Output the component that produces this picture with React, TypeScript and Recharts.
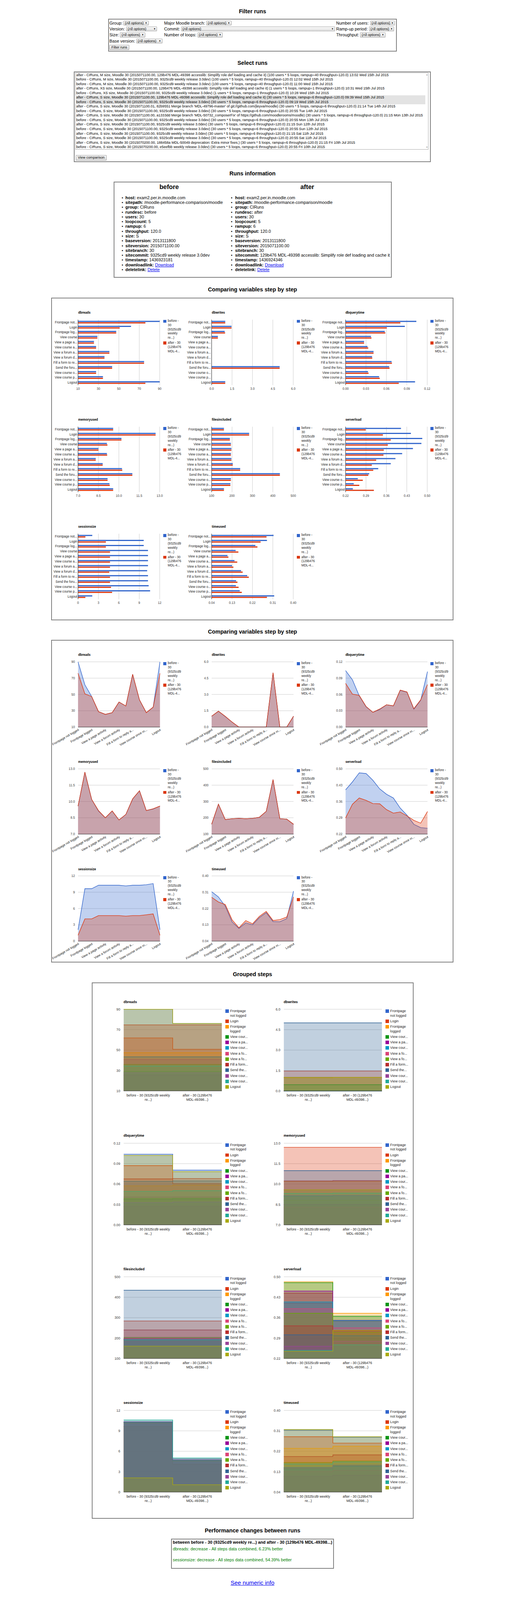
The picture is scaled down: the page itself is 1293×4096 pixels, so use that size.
import React from 'react';
import { BarChart, Bar, AreaChart, Area, XAxis, YAxis, CartesianGrid } from 'recharts';

const S = 1293 / 1905;
const p = (v: number) => v * S;
const FONT = '"Liberation Sans", Arial, Helvetica, sans-serif';
const F12 = p(12);
const F13 = p(13);

// ---------------- data ----------------
const stepNames = ['Frontpage not logged', 'Login', 'Frontpage logged', 'View course', 'View a page activity', 'View course again', 'View a forum activity', 'View a forum discussion', 'Fill a form to reply a forum discussion', 'Send the forum reply', 'View course once more', 'View course page', 'Logout'];
const barStepLabels = ['Frontpage not...', 'Login', 'Frontpage log...', 'View course', 'View a page a...', 'View course a...', 'View a forum a...', 'View a forum d...', 'Fill a form to re...', 'Send the foru...', 'View course o...', 'View course p...', 'Logout'];
const slantStepLabels = ['Frontpage not logged', 'Login', 'Frontpage logged', 'View course', 'View a page activity', 'View course a...', 'View a forum activity', 'View a forum d...', 'Fill a form to reply a...', 'Send the foru...', 'View course once m...', 'View course p...', 'Logout'];
const groupLegendLabels = [['Frontpage', 'not logged'], ['Login'], ['Frontpage', 'logged'], ['View cour...'], ['View a pa...'], ['View cour...'], ['View a fo...'], ['View a fo...'], ['Fill a form...'], ['Send the...'], ['View cour...'], ['View cour...'], ['Logout']];
const legendBeforeLines = ['before -', '30', '(9325cd9', 'weekly', 're...)'];
const legendAfterLines = ['after - 30', '(129b476', 'MDL-4...'];
const runTickLines = [['before - 30 (9325cd9 weekly', 're...)'], ['after - 30 (129b476', 'MDL-49398...)']];
const seriesColors = ['#3366cc', '#dc3912'];
const stepColors = ['#3366cc', '#dc3912', '#ff9900', '#109618', '#990099', '#0099c6', '#dd4477', '#66aa00', '#b82e2e', '#316395', '#994499', '#22aa99', '#aaaa11'];

const dbreadsBefore = [90, 61.9, 47.4, 28.9, 25.6, 27.7, 40.7, 35.9, 74.7, 43.4, 27.7, 34.4, 90];
const dbreadsAfter = [76, 50.8, 47.4, 28.9, 25.6, 27.7, 40.7, 35.9, 74.7, 43.4, 27.7, 34.4, 76];
const dbwritesBefore = [1.0, 1.46, 0.96, 0.46, 0, 0, 0, 0, 0, 5.0, 0, 0, 1.0];
const dbwritesAfter = [1.0, 1.46, 0.99, 0.46, 0, 0, 0, 0, 0, 5.0, 0, 0, 1.0];
const dbquerytimeBefore = [0.104, 0.0871, 0.0575, 0.0373, 0.0272, 0.0322, 0.0411, 0.0389, 0.0676, 0.0641, 0.0329, 0.0493, 0.1021];
const dbquerytimeAfter = [0.0805, 0.0606, 0.0584, 0.038, 0.0272, 0.0333, 0.0411, 0.0392, 0.0681, 0.0646, 0.0338, 0.0502, 0.0782];
const memoryusedBefore = [9.58, 12.7, 10.19, 9.12, 8.5, 9.12, 8.3, 8.81, 10.23, 10.99, 9.17, 9.31, 9.58];
const memoryusedAfter = [9.58, 12.7, 10.19, 9.16, 8.5, 9.14, 8.3, 8.81, 10.25, 10.99, 9.17, 9.33, 9.58];
const filesincludedBefore = [160.4, 283.8, 189.4, 194.4, 196.9, 194.4, 196.9, 203.5, 239.9, 434.4, 194.4, 191.9, 160.4];
const filesincludedAfter = [160.4, 283.8, 189.4, 194.4, 196.9, 194.4, 196.9, 203.5, 239.9, 434.4, 194.4, 191.9, 160.4];
const serverloadBefore = [0.41, 0.444, 0.483, 0.48, 0.451, 0.414, 0.391, 0.375, 0.332, 0.301, 0.262, 0.248, 0.245];
const serverloadAfter = [0.289, 0.348, 0.375, 0.365, 0.351, 0.35, 0.325, 0.31, 0.315, 0.298, 0.279, 0.267, 0.317];
const sessionsizeBefore = [2.09, 9.65, 9.65, 10.28, 10.28, 10.28, 10.28, 10.16, 10.28, 10.28, 10.38, 10.59, 2.09];
const sessionsizeAfter = [1.08, 4.09, 4.09, 4.7, 4.7, 4.7, 4.7, 4.59, 4.7, 4.7, 4.85, 5.01, 1.08];
const timeusedBefore = [0.313, 0.284, 0.233, 0.146, 0.11, 0.141, 0.13, 0.17, 0.197, 0.148, 0.147, 0.164, 0.316];
const timeusedAfter = [0.282, 0.256, 0.242, 0.158, 0.114, 0.153, 0.136, 0.177, 0.204, 0.154, 0.159, 0.173, 0.284];

const dbreadsTicks = [10, 30, 50, 70, 90];
const dbwritesTicks = [0, 1.5, 3, 4.5, 6];
const dbquerytimeTicks = [0, 0.03, 0.06, 0.09, 0.12];
const memoryusedTicks = [7, 8.5, 10, 11.5, 13];
const filesincludedTicks = [100, 200, 300, 400, 500];
const serverloadTicks = [0.22, 0.29, 0.36, 0.43, 0.5];
const sessionsizeTicks = [0, 3, 6, 9, 12];
const timeusedTicks = [0.04, 0.13, 0.22, 0.31, 0.4];

const metricNames = ['dbreads', 'dbwrites', 'dbquerytime', 'memoryused', 'filesincluded', 'serverload', 'sessionsize', 'timeused'];
const tickDecimals = [0, 1, 2, 1, 0, 2, 0, 2];

const metrics = [
  { name: metricNames[0], before: dbreadsBefore, after: dbreadsAfter, ticks: dbreadsTicks, dec: tickDecimals[0] },
  { name: metricNames[1], before: dbwritesBefore, after: dbwritesAfter, ticks: dbwritesTicks, dec: tickDecimals[1] },
  { name: metricNames[2], before: dbquerytimeBefore, after: dbquerytimeAfter, ticks: dbquerytimeTicks, dec: tickDecimals[2] },
  { name: metricNames[3], before: memoryusedBefore, after: memoryusedAfter, ticks: memoryusedTicks, dec: tickDecimals[3] },
  { name: metricNames[4], before: filesincludedBefore, after: filesincludedAfter, ticks: filesincludedTicks, dec: tickDecimals[4] },
  { name: metricNames[5], before: serverloadBefore, after: serverloadAfter, ticks: serverloadTicks, dec: tickDecimals[5] },
  { name: metricNames[6], before: sessionsizeBefore, after: sessionsizeAfter, ticks: sessionsizeTicks, dec: tickDecimals[6] },
  { name: metricNames[7], before: timeusedBefore, after: timeusedAfter, ticks: timeusedTicks, dec: tickDecimals[7] },
];

const runOptions = [
  'after - CIRuns, M size, Moodle 30 (2015071100.00, 129b476 MDL-49398 accesslib: Simplify role def loading and cache it) (100 users * 5 loops, rampup=40 throughput=120.0) 13:02 Wed 15th Jul 2015',
  'before - CIRuns, M size, Moodle 30 (2015071100.00, 9325cd9 weekly release 3.0dev) (100 users * 5 loops, rampup=40 throughput=120.0) 12:02 Wed 15th Jul 2015',
  'before - CIRuns, M size, Moodle 30 (2015071100.00, 9325cd9 weekly release 3.0dev) (100 users * 5 loops, rampup=40 throughput=120.0) 11:00 Wed 15th Jul 2015',
  'after - CIRuns, XS size, Moodle 30 (2015071100.00, 129b476 MDL-49398 accesslib: Simplify role def loading and cache it) (1 users * 5 loops, rampup=1 throughput=120.0) 10:31 Wed 15th Jul 2015',
  'before - CIRuns, XS size, Moodle 30 (2015071100.00, 9325cd9 weekly release 3.0dev) (1 users * 5 loops, rampup=1 throughput=120.0) 10:28 Wed 15th Jul 2015',
  'after - CIRuns, S size, Moodle 30 (2015071100.00, 129b476 MDL-49398 accesslib: Simplify role def loading and cache it) (30 users * 5 loops, rampup=6 throughput=120.0) 09:39 Wed 15th Jul 2015',
  'before - CIRuns, S size, Moodle 30 (2015071100.00, 9325cd9 weekly release 3.0dev) (30 users * 5 loops, rampup=6 throughput=120.0) 09:19 Wed 15th Jul 2015',
  "after - CIRuns, S size, Moodle 30 (2015071100.01, 82b9551 Merge branch 'MDL-49796-master' of git://github.com/jleyva/moodle) (30 users * 5 loops, rampup=6 throughput=120.0) 21:14 Tue 14th Jul 2015",
  'before - CIRuns, S size, Moodle 30 (2015071100.00, 9325cd9 weekly release 3.0dev) (30 users * 5 loops, rampup=6 throughput=120.0) 20:55 Tue 14th Jul 2015',
  "after - CIRuns, S size, Moodle 30 (2015071100.00, a1333dd Merge branch 'MDL-50732_composerFix' of https://github.com/moodlerooms/moodle) (30 users * 5 loops, rampup=6 throughput=120.0) 21:15 Mon 13th Jul 2015",
  'before - CIRuns, S size, Moodle 30 (2015071100.00, 9325cd9 weekly release 3.0dev) (30 users * 5 loops, rampup=6 throughput=120.0) 20:55 Mon 13th Jul 2015',
  'after - CIRuns, S size, Moodle 30 (2015071100.00, 9325cd9 weekly release 3.0dev) (30 users * 5 loops, rampup=6 throughput=120.0) 21:15 Sun 12th Jul 2015',
  'before - CIRuns, S size, Moodle 30 (2015071100.00, 9325cd9 weekly release 3.0dev) (30 users * 5 loops, rampup=6 throughput=120.0) 20:55 Sun 12th Jul 2015',
  'after - CIRuns, S size, Moodle 30 (2015071100.00, 9325cd9 weekly release 3.0dev) (30 users * 5 loops, rampup=6 throughput=120.0) 21:15 Sat 11th Jul 2015',
  'before - CIRuns, S size, Moodle 30 (2015071100.00, 9325cd9 weekly release 3.0dev) (30 users * 5 loops, rampup=6 throughput=120.0) 20:55 Sat 11th Jul 2015',
  'after - CIRuns, S size, Moodle 30 (2015070200.00, 188458a MDL-50049 deprecation: Extra minor fixes.) (30 users * 5 loops, rampup=6 throughput=120.0) 21:15 Fri 10th Jul 2015',
  'before - CIRuns, S size, Moodle 30 (2015070200.00, e5eefbb weekly release 3.0dev) (30 users * 5 loops, rampup=6 throughput=120.0) 20:55 Fri 10th Jul 2015',
];
const selectedRuns = [5, 6];

const runInfoKeys = ['host', 'sitepath', 'group', 'rundesc', 'users', 'loopcount', 'rampup', 'throughput', 'size', 'baseversion', 'siteversion', 'sitebranch', 'sitecommit', 'timestamp', 'downloadlink', 'deletelink'];
const beforeInfo = ['exam2.per.in.moodle.com', '/moodle-performance-comparison/moodle', 'CIRuns', 'before', '30', '5', '6', '120.0', 'S', '2013111800', '2015071100.00', '30', '9325cd9 weekly release 3.0dev', '1436923181', 'Download', 'Delete'];
const afterInfo = ['exam2.per.in.moodle.com', '/moodle-performance-comparison/moodle', 'CIRuns', 'after', '30', '5', '6', '120.0', 'S', '2013111800', '2015071100.00', '30', '129b476 MDL-49398 accesslib: Simplify role def loading and cache it', '1436924346', 'Download', 'Delete'];
const linkKeys = ['downloadlink', 'deletelink'];

const perfHeader = 'between before - 30 (9325cd9 weekly re...) and after - 30 (129b476 MDL-49398...)';
const perfLines = ['dbreads: decrease - All steps data combined, 6.23% better', 'sessionsize: decrease - All steps data combined, 54.39% better'];

// ---------------- helpers ----------------
function L({ x, y, size = 16, bold = false, color = '#000', children, center = false, underline = false }: any) {
  const fs = p(size);
  return (
    <div style={{ position: 'absolute', left: p(x), top: p(y) - fs / 2, fontSize: fs, lineHeight: `${fs}px`, fontWeight: bold ? 700 : 400, color, whiteSpace: 'nowrap', transform: center ? 'translateX(-50%)' : undefined, textDecoration: underline ? 'underline' : undefined }}>
      {children}
    </div>
  );
}

function Title({ y, children }: any) {
  return <L x={952.5} y={y} size={21} bold center>{children}</L>;
}

function Box({ x1, y1, x2, y2 }: any) {
  return <div style={{ position: 'absolute', left: p(x1), top: p(y1), width: p(x2 - x1), height: p(y2 - y1), border: `${p(3)}px solid #808080`, boxSizing: 'border-box' }} />;
}

function Sel({ x1, x2, y }: any) {
  return (
    <div style={{ position: 'absolute', left: p(x1), top: p(y - 9), width: p(x2 - x1), height: p(18), boxSizing: 'border-box', border: '1px solid #a6a6a6', borderRadius: 1, background: 'linear-gradient(#fbfbfb,#dddddd)', fontSize: p(13.33), lineHeight: `${p(16)}px`, paddingLeft: p(4), color: '#000', whiteSpace: 'nowrap', overflow: 'hidden' }}>
      (All options)
      <span style={{ position: 'absolute', right: p(4), top: 0, fontSize: p(9), lineHeight: `${p(16)}px` }}>▼</span>
    </div>
  );
}

function Btn({ x1, x2, y1, y2, children }: any) {
  return (
    <div style={{ position: 'absolute', left: p(x1), top: p(y1), width: p(x2 - x1), height: p(y2 - y1), boxSizing: 'border-box', border: '1px solid #a0a0a0', borderRadius: 1, background: 'linear-gradient(#f8f8f8,#dadada)', fontSize: p(13.33), lineHeight: `${p(y2 - y1) - 2}px`, textAlign: 'center', color: '#000', whiteSpace: 'nowrap' }}>
      {children}
    </div>
  );
}

function ChartTitle({ x, y, size, children }: any) {
  return <div style={{ position: 'absolute', left: p(x), top: p(y) - p(size) / 2, fontSize: p(size), lineHeight: `${p(size)}px`, fontWeight: 700, color: '#000', whiteSpace: 'nowrap' }}>{children}</div>;
}

function LegendLine({ x, y, size, children }: any) {
  return <div style={{ position: 'absolute', left: p(x), top: p(y) - p(size) / 2, fontSize: p(size), lineHeight: `${p(size)}px`, color: '#222', whiteSpace: 'nowrap' }}>{children}</div>;
}

function SeriesLegend({ left, top }: any) {
  return (
    <div style={{ position: 'absolute', left: p(left), top: p(top) }}>
      <div style={{ position: 'absolute', left: 0, top: 0, width: p(12), height: p(11.5), background: seriesColors[0] }} />
      {legendBeforeLines.map((t, i) => <LegendLine key={'b' + i} x={17} y={5 + 16 * i} size={12}>{t}</LegendLine>)}
      <div style={{ position: 'absolute', left: 0, top: p(82), width: p(12), height: p(11.5), background: seriesColors[1] }} />
      {legendAfterLines.map((t, i) => <LegendLine key={'a' + i} x={17} y={88 + 16 * i} size={12}>{t}</LegendLine>)}
    </div>
  );
}

function GroupLegend({ left }: any) {
  let yy = 63.7;
  const items: any[] = [];
  groupLegendLabels.forEach((lines, i) => {
    const top = yy;
    items.push(
      <React.Fragment key={i}>
        <div style={{ position: 'absolute', left: p(left), top: p(top - 6.5), width: p(13), height: p(13), background: stepColors[i] }} />
        {lines.map((t, j) => <LegendLine key={j} x={left + 18} y={top + 17 * j} size={13}>{t}</LegendLine>)}
      </React.Fragment>
    );
    yy = top + (lines.length - 1) * 17 + 21;
  });
  return <>{items}</>;
}

// ---------------- charts ----------------
function HBarChart({ m, x, y }: any) {
  const W = p(504), H = p(404);
  const data = barStepLabels.map((label, i) => ({ label, before: m.before[i], after: m.after[i] }));
  const fmt = (v: any) => Number(v).toFixed(m.dec);
  return (
    <div style={{ position: 'absolute', left: p(x), top: p(y), width: W, height: H }}>
      <BarChart layout="vertical" width={W} height={H} data={data}
        margin={{ top: p(55), right: W - p(97 + 308), bottom: p(404 - 302 - 30), left: 0 }}
        barCategoryGap="22%" barGap={p(1.3)}>
        <CartesianGrid horizontal={false} stroke="#cccccc" />
        <XAxis type="number" domain={[m.ticks[0], m.ticks[m.ticks.length - 1]]} ticks={m.ticks} interval={0} height={p(30)}
          axisLine={false} tickLine={false} tickSize={0} tickMargin={0}
          tick={(t: any) => <text x={t.x} y={t.y + p(13)} dy="0.35em" textAnchor="middle" fontSize={F12} fill="#444">{fmt(t.payload.value)}</text>} />
        <YAxis type="category" dataKey="label" width={p(97)} interval={0} axisLine={{ stroke: '#333333' }} tickLine={false} tickSize={0} tickMargin={p(3)}
          tick={(t: any) => <text x={t.x} y={t.y} dy="0.35em" textAnchor="end" fontSize={F12} fill="#222">{t.payload.value}</text>} />
        <Bar dataKey="before" fill={seriesColors[0]} isAnimationActive={false} />
        <Bar dataKey="after" fill={seriesColors[1]} isAnimationActive={false} />
      </BarChart>
      <ChartTitle x={97} y={30} size={12}>{m.name}</ChartTitle>
      <SeriesLegend left={418} top={56} />
    </div>
  );
}

function StepAreaChart({ m, x, y }: any) {
  const W = p(504), H = p(404);
  const data = slantStepLabels.map((label, i) => ({ label, before: m.before[i], after: m.after[i] }));
  const fmt = (v: any) => Number(v).toFixed(m.dec);
  return (
    <div style={{ position: 'absolute', left: p(x), top: p(y), width: W, height: H }}>
      <AreaChart width={W} height={H} data={data}
        margin={{ top: p(55), right: W - p(97 + 309), bottom: p(404 - 301 - 30), left: 0 }}>
        <CartesianGrid vertical={false} stroke="#cccccc" />
        <XAxis dataKey="label" interval={1} height={p(30)} axisLine={{ stroke: '#333333' }} tickLine={false} tickSize={0} tickMargin={0}
          tick={(t: any) => {
            const tx = t.x + p(2), ty = t.y + p(9);
            return <text x={tx} y={ty} dy="0.35em" transform={`rotate(-30 ${tx} ${ty})`} textAnchor="end" fontSize={F12} fill="#222">{t.payload.value}</text>;
          }} />
        <YAxis type="number" domain={[m.ticks[0], m.ticks[m.ticks.length - 1]]} ticks={m.ticks} interval={0} width={p(97)}
          axisLine={false} tickLine={false} tickSize={0} tickMargin={p(12)}
          tick={(t: any) => <text x={t.x} y={t.y} dy="0.35em" textAnchor="end" fontSize={F12} fill="#444">{fmt(t.payload.value)}</text>} />
        <Area type="linear" dataKey="before" stroke={seriesColors[0]} fill={seriesColors[0]} fillOpacity={0.3} strokeWidth={p(2)} dot={false} activeDot={false} isAnimationActive={false} />
        <Area type="linear" dataKey="after" stroke={seriesColors[1]} fill={seriesColors[1]} fillOpacity={0.3} strokeWidth={p(2)} dot={false} activeDot={false} isAnimationActive={false} />
      </AreaChart>
      <ChartTitle x={97} y={30} size={12}>{m.name}</ChartTitle>
      <SeriesLegend left={418} top={56} />
    </div>
  );
}

function GroupedChart({ m, x, y }: any) {
  const W = p(604), H = p(505);
  const data = [0, 1, 2].map((k) => {
    const row: any = { x: k };
    stepNames.forEach((_, i) => { row['s' + i] = k === 0 ? m.before[i] : m.after[i]; });
    return row;
  });
  const fmt = (v: any) => Number(v).toFixed(m.dec);
  return (
    <div style={{ position: 'absolute', left: p(x), top: p(y), width: W, height: H }}>
      <AreaChart width={W} height={H} data={data}
        margin={{ top: p(57), right: W - p(116 + 370), bottom: p(505 - 365 - 40), left: 0 }}>
        <CartesianGrid vertical={false} stroke="#cccccc" />
        <XAxis type="number" dataKey="x" domain={[0, 2]} ticks={[0.5, 1.5]} interval={0} height={p(40)} axisLine={{ stroke: '#333333' }} tickLine={false} tickSize={0} tickMargin={0}
          tick={(t: any) => {
            const lines = runTickLines[t.payload.value < 1 ? 0 : 1];
            return (
              <text x={t.x} y={t.y} textAnchor="middle" fontSize={F13} fill="#222">
                {lines.map((l, i) => <tspan key={i} x={t.x} y={t.y + p(16 + 17 * i)} dy="0.35em">{l}</tspan>)}
              </text>
            );
          }} />
        <YAxis type="number" domain={[m.ticks[0], m.ticks[m.ticks.length - 1]]} ticks={m.ticks} interval={0} width={p(116)}
          axisLine={false} tickLine={false} tickSize={0} tickMargin={p(13)}
          tick={(t: any) => <text x={t.x} y={t.y} dy="0.35em" textAnchor="end" fontSize={F13} fill="#444">{fmt(t.payload.value)}</text>} />
        {stepNames.map((n, i) => (
          <Area key={n} type="stepAfter" dataKey={'s' + i} stroke={stepColors[i]} fill={stepColors[i]} fillOpacity={0.3} strokeWidth={p(2)} dot={false} activeDot={false} isAnimationActive={false} />
        ))}
      </AreaChart>
      <ChartTitle x={116} y={29} size={13}>{m.name}</ChartTitle>
      <GroupLegend left={500} />
    </div>
  );
}

function InfoColumn({ values, bulletX, textX }: any) {
  return (
    <>
      {runInfoKeys.map((k, i) => {
        const yy = 746 + 18.07 * i;
        const isLink = linkKeys.indexOf(k) >= 0;
        return (
          <React.Fragment key={k}>
            <L x={bulletX} y={yy} size={16}>•</L>
            <L x={textX} y={yy} size={16}>
              <span style={{ fontWeight: 700 }}>{k}:</span>{' '}
              {isLink ? <span style={{ color: '#0000ee', textDecoration: 'underline' }}>{values[i]}</span> : values[i]}
            </L>
          </React.Fragment>
        );
      })}
    </>
  );
}

export default function App() {
  const barCols = [198, 702, 1206];
  const barRows = [1150, 1554, 1958];
  const areaRows = [2441, 2845, 3249];
  const groupCols = [350, 954];
  const groupRows = [3750, 4255, 4759, 5262];
  return (
    <div style={{ position: 'absolute', left: 0, top: 0, width: 1293, height: 4096, overflow: 'hidden', background: '#ffffff', fontFamily: FONT, color: '#000' }}>
      {/* Filter runs */}
      <Title y={43}>Filter runs</Title>
      <Box x1={408} y1={71} x2={1497} y2={195} />
      <L x={413} y={87}>Group:</L>
      <Sel x1={466} x2={561} y={87} />
      <L x={619} y={87}>Major Moodle branch:</L>
      <Sel x1={778} x2={873} y={87} />
      <L x={1268} y={87}>Number of users:</L>
      <Sel x1={1396} x2={1490} y={87} />
      <L x={413} y={109}>Version:</L>
      <Sel x1={476} x2={593} y={109} />
      <L x={619} y={109}>Commit:</L>
      <Sel x1={683} x2={1264} y={109} />
      <L x={1268} y={109}>Ramp-up period:</L>
      <Sel x1={1392} x2={1487} y={109} />
      <L x={413} y={132}>Size:</L>
      <Sel x1={453} x2={548} y={132} />
      <L x={619} y={132}>Number of loops:</L>
      <Sel x1={745} x2={840} y={132} />
      <L x={1268} y={132}>Throughput:</L>
      <Sel x1={1359} x2={1454} y={132} />
      <L x={413} y={155}>Base version:</L>
      <Sel x1={514} x2={613} y={155} />
      <Btn x1={413} x2={487} y1={169} y2={189}>Filter runs</Btn>

      {/* Select runs */}
      <Title y={238}>Select runs</Title>
      <Box x1={279} y1={269} x2={1625} y2={612} />
      <div style={{ position: 'absolute', left: p(284), top: p(274), width: p(1332), height: p(290), border: '1px solid #a9a9a9', boxSizing: 'border-box' }} />
      {selectedRuns.map((i) => (
        <div key={'sel' + i} style={{ position: 'absolute', left: p(285), top: p(283 + 17 * i - 8.5), width: p(1319), height: p(17), background: '#e3e3e3' }} />
      ))}
      {runOptions.map((t, i) => <L key={'run' + i} x={287.5} y={283 + 17 * i} size={13.33}>{t}</L>)}
      <L x={1606} y={281} size={9} color="#a3a3a3">▲</L>
      <L x={1606} y={556} size={9} color="#a3a3a3">▼</L>
      <Btn x1={286} x2={402} y1={585} y2={605}>View comparison</Btn>

      {/* Runs information */}
      <Title y={655}>Runs information</Title>
      <Box x1={429} y1={685} x2={1478} y2={1048} />
      <L x={638} y={704} size={24} bold center>before</L>
      <L x={1159} y={704} size={24} bold center>after</L>
      <InfoColumn values={beforeInfo} bulletX={459} textX={473} />
      <InfoColumn values={afterInfo} bulletX={871} textX={887} />

      {/* Bar charts */}
      <Title y={1092}>Comparing variables step by step</Title>
      <Box x1={193} y1={1123} x2={1711} y2={2340} />
      {metrics.map((m, i) => (
        <HBarChart key={'bar' + m.name} m={m} x={barCols[i % 3]} y={barRows[Math.floor(i / 3)]} />
      ))}

      {/* Area charts */}
      <Title y={2383}>Comparing variables step by step</Title>
      <Box x1={193} y1={2414} x2={1711} y2={3630} />
      {metrics.map((m, i) => (
        <StepAreaChart key={'area' + m.name} m={m} x={barCols[i % 3]} y={areaRows[Math.floor(i / 3)]} />
      ))}

      {/* Grouped steps */}
      <Title y={3675}>Grouped steps</Title>
      <Box x1={346} y1={3706} x2={1560} y2={5728} />
      {metrics.map((m, i) => (
        <GroupedChart key={'grp' + m.name} m={m} x={groupCols[i % 2]} y={groupRows[Math.floor(i / 2)]} />
      ))}

      {/* Performance changes */}
      <Title y={5773}>Performance changes between runs</Title>
      <Box x1={646} y1={5803} x2={1259} y2={5917} />
      <L x={652} y={5817} size={16} bold>{perfHeader}</L>
      <L x={652} y={5843} size={16} color="#008000">{perfLines[0]}</L>
      <L x={652} y={5883} size={16} color="#008000">{perfLines[1]}</L>
      <L x={952.5} y={5971} size={22} color="#0000ee" center underline>See numeric info</L>
    </div>
  );
}
